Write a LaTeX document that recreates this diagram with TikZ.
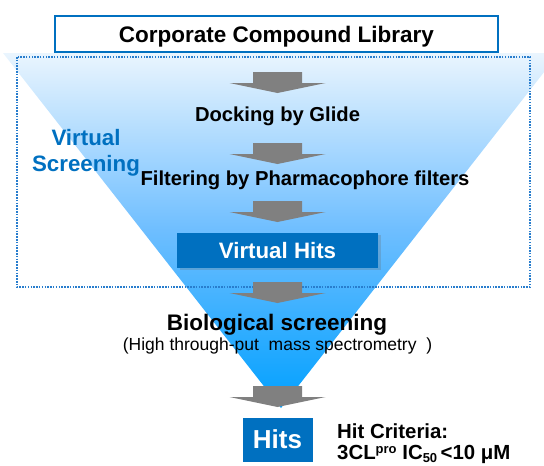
\documentclass[tikz,border=0pt]{standalone}
\usepackage{fontspec}
\setmainfont{Liberation Sans}
\usetikzlibrary{shadows,calc}
\definecolor{corpblue}{RGB}{0,112,192}
\definecolor{dotblue}{RGB}{40,125,205}
\definecolor{arrgray}{RGB}{128,128,128}
\definecolor{funtop}{RGB}{234,245,254}
\definecolor{funmid}{RGB}{110,190,255}
\definecolor{funbot}{RGB}{0,160,255}
\tikzset{
  garrow/.pic={\fill[arrgray] (-24.5,0) -- (24.5,0) -- (24.5,11) -- (48,11) -- (0,21) -- (-48,11) -- (-24.5,11) -- cycle;},
  steptext/.style={font=\bfseries\fontsize{20.2}{24}\selectfont, anchor=base, inner sep=0pt},
  bluebox/.style={fill=corpblue, text=white, inner sep=0pt},
}
\begin{document}
\begin{tikzpicture}[x=1pt,y=-1pt]
\useasboundingbox (0,0) rectangle (544,466);
\clip (0,0) rectangle (544,466);
% funnel
\shade[top color=funtop, bottom color=funbot, middle color=funmid] (3,53) -- (559,53) -- (281,408) -- cycle;
% dotted box
\draw[dotblue, line width=1.5pt, dash pattern=on 1.5pt off 1.3pt] (17,57) rectangle (530,287);
% title box
\node[draw=corpblue, line width=2.5pt, fill=white, minimum width=443pt, minimum height=36pt, inner sep=0pt] (lib) at (276.5,34) {};
\node[font=\bfseries\fontsize{22.5}{26}\selectfont, anchor=base, inner sep=0pt] (libtext) at (276.5,42.5) {Corporate Compound Library};
% arrows
\pic at (277.5,72) {garrow};
\pic at (277.5,143) {garrow};
\pic at (277.5,201) {garrow};
\pic at (277.5,282) {garrow};
\pic at (277.5,386) {garrow};
% steps
\node[steptext] (dock) at (277.5,121.5) {Docking by Glide};
\node[steptext] (filt) at (305,185) {Filtering by Pharmacophore filters};
\node[font=\bfseries\fontsize{22.3}{26}\selectfont, text=corpblue, align=center, anchor=base, inner sep=0pt] (vs) at (86,171) {Virtual\\[-0.5pt]Screening};
% virtual hits box
\node[bluebox, minimum width=201pt, minimum height=35pt, drop shadow={shadow xshift=2.5pt, shadow yshift=-2pt, opacity=0.25, fill=black!60}] (vh) at (277.5,250.5) {};
\node[font=\bfseries\fontsize{22.3}{26}\selectfont, text=white, anchor=base, inner sep=0pt] (vhtext) at (277.5,258) {Virtual Hits};
% biological screening
\node[font=\bfseries\fontsize{22.5}{26}\selectfont, anchor=base, inner sep=0pt] (bio) at (277,330) {Biological screening};
\node[font=\fontsize{17.5}{21}\selectfont, anchor=base, inner sep=0pt] (hts) at (277.5,350) {(High through-put~ mass spectrometry~ )};
% hits
\node[bluebox, minimum width=70pt, minimum height=44pt] (hits) at (278,440) {};
\node[font=\bfseries\fontsize{26}{30}\selectfont, text=white, anchor=base, inner sep=0pt] (hitstext) at (277.5,448) {Hits};
\node[font=\bfseries\fontsize{20.4}{24}\selectfont, anchor=base west, inner sep=0pt] (crit) at (337,438) {Hit Criteria:};
\node[font=\bfseries\fontsize{20.4}{24}\selectfont, anchor=base west, inner sep=0pt] (crit2) at (337,459.5) {3CL\raisebox{6.5pt}{\fontsize{13}{14}\selectfont pro} IC\raisebox{-2.5pt}{\fontsize{13}{14}\selectfont 50}\,<10 μM};
\end{tikzpicture}
\end{document}
